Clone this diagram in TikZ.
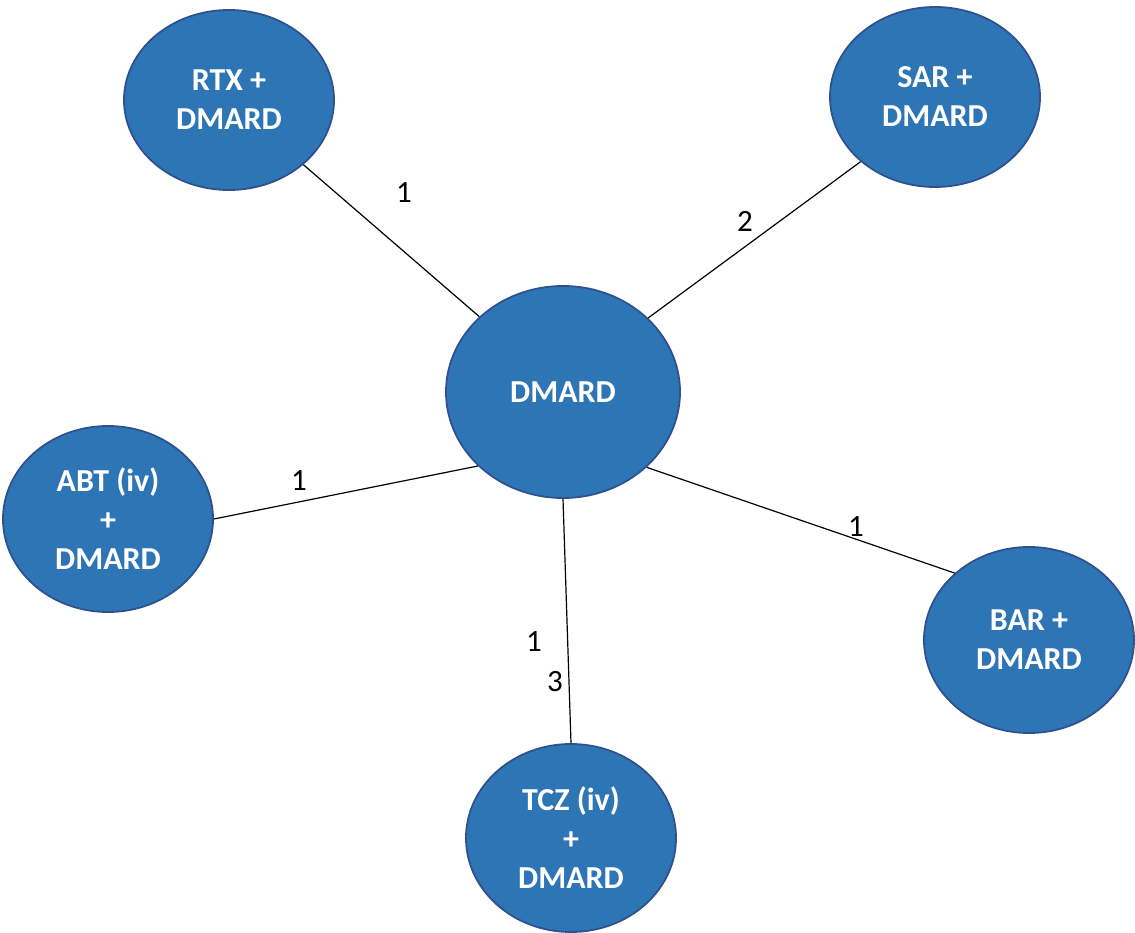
\documentclass[tikz,border=0pt]{standalone}
\usepackage{fontspec}
\setmainfont{Carlito}
\usetikzlibrary{shapes.geometric}
\definecolor{fillblue}{HTML}{2E75B6}
\definecolor{edgeblue}{HTML}{2F528F}
\begin{document}
\begin{tikzpicture}[x=1pt,y=-1pt,
  drug/.style={ellipse,draw=edgeblue,line width=1.8pt,fill=fillblue,text=white,
    font=\fontsize{32}{39}\selectfont\bfseries,align=center,inner sep=0pt},
  link/.style={line width=1.2pt,black},
  num/.style={font=\fontsize{31}{37}\selectfont,text=black,inner sep=0pt}]
\useasboundingbox[fill=white] (0,0) rectangle (1135,933);
\node[drug,minimum width=234pt,minimum height=212pt] (dm) at (563,392) {DMARD};
\node[drug,minimum width=210pt,minimum height=180pt] (rtx) at (229,100) {RTX +\\DMARD};
\node[drug,minimum width=210pt,minimum height=180pt] (sar) at (935,97) {SAR +\\DMARD};
\node[drug,minimum width=210pt,minimum height=186pt] (abt) at (108,519) {ABT (iv)\\+\\DMARD};
\node[drug,minimum width=210pt,minimum height=186pt] (bar) at (1029,640) {BAR +\\DMARD};
\node[drug,minimum width=210pt,minimum height=188pt] (tcz) at (571,838) {TCZ (iv)\\+\\DMARD};
\draw[link] (rtx.319.5) -- (dm.138);
\draw[link] (sar.221.3) -- (dm.41.7);
\draw[link] (abt.east) -- (dm.221);
\draw[link] (bar.138) -- (dm.318.6);
\draw[link] (tcz.north) -- (dm.south);
\node[num] (l1) at (404,193) {1};
\node[num] (l2) at (745,221) {2};
\node[num] (l3) at (299,481) {1};
\node[num] (l4) at (856,527) {1};
\node[num] (l5) at (534,642) {1};
\node[num] (l6) at (555,682) {3};
\end{tikzpicture}
\end{document}
